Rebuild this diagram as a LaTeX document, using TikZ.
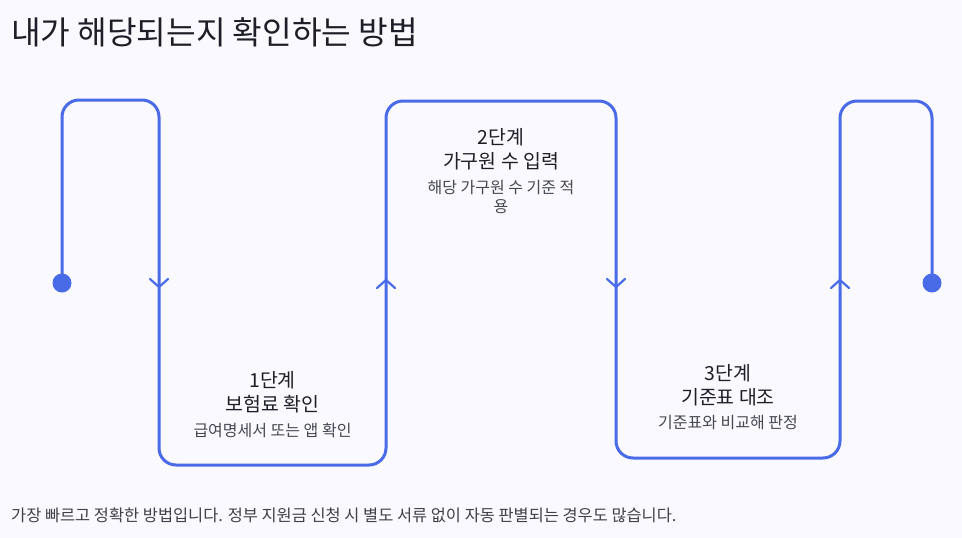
\documentclass[tikz,border=0pt]{standalone}
\usepackage{fontspec}
\setmainfont{Noto Sans CJK KR}
\definecolor{bgc}{RGB}{249,249,254}
\definecolor{flow}{RGB}{74,107,232}
\definecolor{ink}{RGB}{30,30,40}
\definecolor{subink}{RGB}{70,72,82}
\tikzset{
  flowline/.style={draw=flow,line width=3pt,rounded corners=17pt},
  chevron/.style={draw=flow,line width=2.2pt,line cap=round,line join=miter},
  enddot/.style={circle,fill=flow,inner sep=0pt,minimum size=19pt},
  steptitle/.style={inner sep=0pt,text=ink,font=\fontsize{19.4pt}{23pt}\selectfont},
  stepsub/.style={inner sep=0pt,text=subink,font=\fontsize{16pt}{19pt}\selectfont},
}
\begin{document}
\begin{tikzpicture}[x=1pt,y=-1pt]
\fill[bgc] (0,0) rectangle (962,538);
\useasboundingbox (0,0) rectangle (962,538);

\node[anchor=west,inner sep=0pt,text=ink,font=\fontsize{32.2pt}{36pt}\selectfont] (title) at (11,32) {내가 해당되는지 확인하는 방법};

% path corners
\coordinate (s) at (62,283);
\coordinate (e) at (932,283);
\draw[flowline] (s) -- (62,100) -- (159,100) -- (159,465) -- (386,465) -- (386,101) -- (616,101) -- (616,458) -- (840,458) -- (840,101) -- (932,101) -- (e);

\node[enddot] (startdot) at (s) {};
\node[enddot] (enddot) at (e) {};

% direction chevrons
\draw[chevron] (150,279) -- (159,287) -- (168,279);
\draw[chevron] (377,288) -- (386,280) -- (395,288);
\draw[chevron] (607,279) -- (616,287) -- (625,279);
\draw[chevron] (831,288) -- (840,280) -- (849,288);

% step 1
\node[steptitle] (s1a) at (272.5,380) {1단계};
\node[steptitle] (s1b) at (272.5,404) {보험료 확인};
\node[stepsub] (s1c) at (272.5,430) {급여명세서 또는 앱 확인};

% step 2
\node[steptitle] (s2a) at (501,137) {2단계};
\node[steptitle] (s2b) at (501,161) {가구원 수 입력};
\node[stepsub] (s2c) at (501,188) {해당 가구원 수 기준 적};
\node[stepsub] (s2d) at (501,207) {용};

% step 3
\node[steptitle] (s3a) at (728,373) {3단계};
\node[steptitle] (s3b) at (728,397) {기준표 대조};
\node[stepsub] (s3c) at (728,423) {기준표와 비교해 판정};

\node[anchor=west,inner sep=0pt,text=ink!85,font=\fontsize{16.4pt}{19pt}\selectfont] (foot) at (11,515) {가장 빠르고 정확한 방법입니다. 정부 지원금 신청 시 별도 서류 없이 자동 판별되는 경우도 많습니다.};
\end{tikzpicture}
\end{document}
